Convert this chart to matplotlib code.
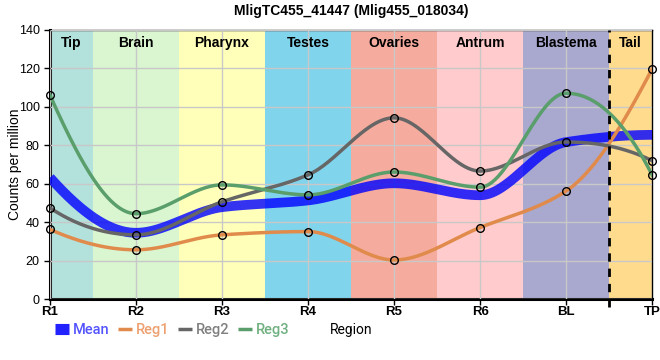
import numpy as np
import matplotlib
matplotlib.use('Agg')
import matplotlib.pyplot as plt
from matplotlib.patches import Rectangle
from matplotlib.lines import Line2D

plt.rcParams['font.family'] = ['Liberation Sans', 'DejaVu Sans']

samples = ['R1', 'R2', 'R3', 'R4', 'R5', 'R6', 'BL', 'TP']
regions = ['Tip', 'Brain', 'Pharynx', 'Testes', 'Ovaries', 'Antrum', 'Blastema', 'Tail']
region_colors = ['#b3e2dd', '#d9f6d1', '#ffffb9', '#80d4eb', '#f5ab9d',
                 '#ffcbcc', '#a9a8cf', '#ffdb8e']

reg1 = [36.2, 25.6, 33.4, 35.1, 20.3, 37.2, 56.2, 119.7]
reg2 = [47.4, 33.4, 50.6, 64.6, 94.3, 66.6, 81.7, 72.0]
reg3 = [106.0, 44.4, 59.4, 54.2, 66.1, 58.2, 107.1, 64.6]
mean = [(a + b + c) / 3 for a, b, c in zip(reg1, reg2, reg3)]


def pchip(x, y, xs):
    x = np.asarray(x, float)
    y = np.asarray(y, float)
    h = np.diff(x)
    d = np.diff(y) / h
    n = len(x)
    m = np.zeros(n)
    for k in range(1, n - 1):
        if d[k - 1] * d[k] > 0:
            w1 = 2 * h[k] + h[k - 1]
            w2 = h[k] + 2 * h[k - 1]
            m[k] = (w1 + w2) / (w1 / d[k - 1] + w2 / d[k])

    def end(h0, h1, d0, d1):
        s = ((2 * h0 + h1) * d0 - h0 * d1) / (h0 + h1)
        if np.sign(s) != np.sign(d0):
            s = 0
        elif np.sign(d0) != np.sign(d1) and abs(s) > abs(3 * d0):
            s = 3 * d0
        return s
    m[0] = end(h[0], h[1], d[0], d[1])
    m[-1] = end(h[-1], h[-2], d[-1], d[-2])
    idx = np.clip(np.searchsorted(x, xs) - 1, 0, n - 2)
    t = (xs - x[idx]) / h[idx]
    h00 = 2 * t**3 - 3 * t**2 + 1
    h10 = t**3 - 2 * t**2 + t
    h01 = -2 * t**3 + 3 * t**2
    h11 = t**3 - t**2
    return (h00 * y[idx] + h10 * h[idx] * m[idx] + h01 * y[idx + 1]
            + h11 * h[idx] * m[idx + 1])


fig = plt.figure(figsize=(6.6, 3.6), dpi=100)
ax = fig.add_axes([0.0758, 0.1694, 0.9122, 0.7473])

xpos = np.arange(len(samples))
xs = np.linspace(0, len(samples) - 1, 400)

# region backgrounds
for i, (name, col) in enumerate(zip(regions, region_colors)):
    left = max(i - 0.5, 0)
    right = min(i + 0.5, len(samples) - 1)
    ax.add_patch(Rectangle((left, 0), right - left, 140, color=col, zorder=0, lw=0))
    ax.text((left + right) / 2, 137, name, ha='center', va='top',
            fontsize=10, fontweight='bold', zorder=5)

ax.grid(True, color='#c8c8c8', lw=1, zorder=1)
ax.set_axisbelow(False)
for gl in ax.get_xgridlines() + ax.get_ygridlines():
    gl.set_zorder(1)

ax.axvline(6.5, color='black', ls=(0, (3, 2.5)), lw=2, zorder=6, ymin=-0.03,
           clip_on=False)

ax.plot(xs, pchip(xpos, mean, xs), color='#0000ff', lw=7, alpha=0.8,
        solid_capstyle='butt', zorder=3)
series = [(reg1, '#e08b4b'), (reg2, '#666666'), (reg3, '#5a9e6b')]
for vals, col in series:
    ax.plot(xs, pchip(xpos, vals, xs), color=col, lw=2.5, zorder=4)
    ax.plot(xpos, vals, 'o', ms=5.5, mfc='none', mec='black', mew=1, zorder=7,
            clip_on=False)

ax.set_xlim(0, len(samples) - 1)
ax.set_ylim(0, 140)
ax.set_xticks(xpos)
ax.set_xticklabels(samples, fontsize=9.5, fontweight='bold')
ax.set_yticks(np.arange(0, 141, 20))
ax.tick_params(axis='y', labelsize=9, length=4, width=1)
ax.tick_params(axis='x', length=4, width=1, pad=1)
for s in ['left', 'bottom']:
    ax.spines[s].set_linewidth(2.2)
for s in ['top', 'right']:
    ax.spines[s].set_linewidth(1)
ax.set_ylabel('Counts per million', fontsize=10)
ax.yaxis.set_label_coords(-0.047, 0.5)
ax.set_title('MligTC455_41447 (Mlig455_018034)', fontsize=10, fontweight='bold',
             pad=11)

handles = [Line2D([], [], color='#2222ff', lw=8, solid_capstyle='butt'),
           Line2D([], [], color='#e08b4b', lw=2.5, solid_capstyle='butt'),
           Line2D([], [], color='#666666', lw=2.5, solid_capstyle='butt'),
           Line2D([], [], color='#5a9e6b', lw=2.5, solid_capstyle='butt')]
leg = fig.legend(handles, ['Mean', 'Reg1', 'Reg2', 'Reg3'], loc='center left',
                 bbox_to_anchor=(0.073, 0.083), ncol=4, frameon=False,
                 handlelength=0.95, handletextpad=0.25, columnspacing=0.6,
                 borderpad=0, prop={'family': 'Roboto', 'size': 10.5,
                                    'weight': 'medium'})
for t, c in zip(leg.get_texts(), ['#5555ff', '#eda070', '#808080', '#70b080']):
    t.set_color(c)
fig.text(0.532, 0.083, 'Region', fontsize=10, ha='center', va='center',
         family='Roboto')

fig.savefig('out.png', dpi=100)
